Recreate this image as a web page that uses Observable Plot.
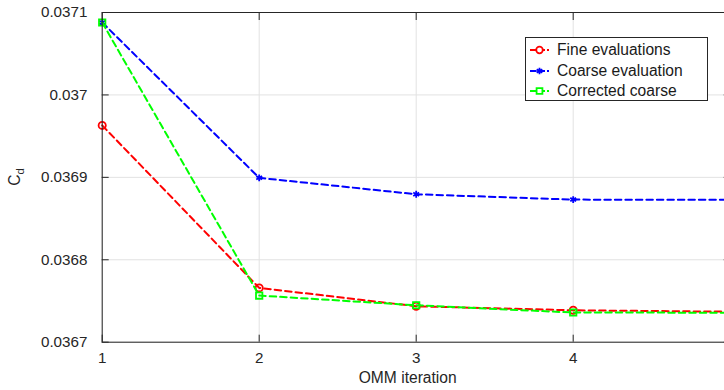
<!DOCTYPE html>
<html>
<head>
<meta charset="utf-8">
<script src="https://cdn.jsdelivr.net/npm/d3@7"></script>
<script src="https://cdn.jsdelivr.net/npm/@observablehq/plot@0.6"></script>
<style>
  html, body { margin: 0; padding: 0; background: white; overflow: hidden; }
  #wrap { position: relative; width: 724px; height: 390px; overflow: hidden; font-family: "Liberation Sans", Arial, Helvetica, sans-serif; }
  #legend { position: absolute; left: 525px; top: 37px; width: 181px; height: 62px; border: 1px solid #262626; background: white; box-sizing: content-box; }
  #legend .row { position: absolute; left: 0; height: 20px; display: flex; align-items: center; font-size: 15.6px; color: #1a1a1a; white-space: nowrap; }
  #legend svg { margin-left: 3px; margin-right: 7px; }
</style>
</head>
<body>
<div id="wrap"></div>
<script>
// Optimisation iterations (OMM) and drag coefficient per model
const iterations = [1, 2, 3, 4, 5];
const fine      = [0.036963, 0.0367659, 0.0367436, 0.0367387, 0.036737];
const coarse    = [0.0370879, 0.0368994, 0.0368795, 0.036873, 0.0368727];
const corrected = [0.0370879, 0.0367566, 0.0367448, 0.036736, 0.0367358];

const seriesNames = ["Fine evaluations", "Coarse evaluation", "Corrected coarse"];
const xTicks = [1, 2, 3, 4, 5];
const xTickLabels = [1, 2, 3, 4];
const yTicks = [0.0367, 0.0368, 0.0369, 0.037, 0.0371];

const font = '"Liberation Sans", Arial, Helvetica, sans-serif';
const axisColor = "#262626";
const gridColor = "#e2e2e2";

const styles = [
  {name: seriesNames[0], values: fine,      color: "#ff0000", symbol: "circle",   r: 3.6},
  {name: seriesNames[1], values: coarse,    color: "#0000ff", symbol: "asterisk", r: 3.2},
  {name: seriesNames[2], values: corrected, color: "#00ff00", symbol: "square",   r: 3.6}
];

const rows = styles.map(s => iterations.map((it, i) => ({series: s.name, it, cd: s.values[i]})));

const fmt = d => String(+d.toFixed(4));

const seriesMarks = styles.flatMap((s, k) => [
  Plot.line(rows[k], {x: "it", y: "cd", stroke: s.color, strokeWidth: 2, strokeDasharray: "6.5,4"}),
  Plot.dot(rows[k], {x: "it", y: "cd", stroke: s.color, fill: "none", symbol: s.symbol, r: s.r, strokeWidth: 1.8})
]);

const chart = Plot.plot({
  width: 724,
  height: 390,
  marginLeft: 101.7,
  marginRight: -5.7,
  marginTop: 12,
  marginBottom: 48.3,
  style: {fontFamily: font, fontSize: "15.2px", color: axisColor, background: "white"},
  x: {domain: [1, 5]},
  y: {domain: [0.0367, 0.0371]},
  marks: [
    Plot.gridX(xTicks, {stroke: gridColor, strokeOpacity: 1}),
    Plot.gridY(yTicks, {stroke: gridColor, strokeOpacity: 1}),
    ...seriesMarks,
    Plot.frame({stroke: axisColor}),
    Plot.axisX(xTicks, {anchor: "bottom", tickSize: -7, tickFormat: () => "", label: null, stroke: axisColor}),
    Plot.axisX(xTickLabels, {anchor: "bottom", tickSize: 0, tickPadding: 10.5, label: null, tickFormat: d => String(d)}),
    Plot.axisX(xTicks, {anchor: "top", tickSize: -7, label: null, tickFormat: () => "", stroke: axisColor}),
    Plot.axisY(yTicks, {anchor: "left", tickSize: -7, tickPadding: 21.8, label: null, tickFormat: fmt, stroke: axisColor}),
    Plot.axisY(yTicks, {anchor: "right", tickSize: -7, label: null, tickFormat: () => "", stroke: axisColor})
  ]
});

const wrap = document.getElementById("wrap");
wrap.appendChild(chart);

// Axis titles
const svg = d3.select(chart);
svg.append("text")
  .attr("x", 407.7).attr("y", 382.5)
  .attr("text-anchor", "middle")
  .attr("font-family", font).attr("font-size", "15.6px").attr("fill", axisColor)
  .text("OMM iteration");

const yl = svg.append("text")
  .attr("transform", "translate(20,177) rotate(-90)")
  .attr("text-anchor", "middle")
  .attr("font-family", font).attr("font-size", "15.6px").attr("fill", axisColor);
yl.append("tspan").text("C");
yl.append("tspan").attr("font-size", "11.5px").attr("dy", "4").text("d");

// Legend
const legend = document.createElement("div");
legend.id = "legend";
styles.forEach((s, i) => {
  const row = document.createElement("div");
  row.className = "row";
  row.style.top = (2 + i * 20.5) + "px";
  const sw = d3.create("svg").attr("width", 21).attr("height", 12);
  sw.append("line").attr("x1", 1).attr("x2", 20).attr("y1", 6).attr("y2", 6)
    .attr("stroke", s.color).attr("stroke-width", 2).attr("stroke-dasharray", "6.5,2");
  sw.append("path").attr("transform", "translate(10.5,6)")
    .attr("d", d3.symbol(s.symbol === "circle" ? d3.symbolCircle : s.symbol === "square" ? d3.symbolSquare : d3.symbolAsterisk, s.symbol === "asterisk" ? 30 : 34)())
    .attr("fill", "white").attr("stroke", s.color).attr("stroke-width", 1.8);
  row.appendChild(sw.node());
  const label = document.createElement("span");
  label.textContent = s.name;
  row.appendChild(label);
  legend.appendChild(row);
});
wrap.appendChild(legend);
</script>
</body>
</html>
